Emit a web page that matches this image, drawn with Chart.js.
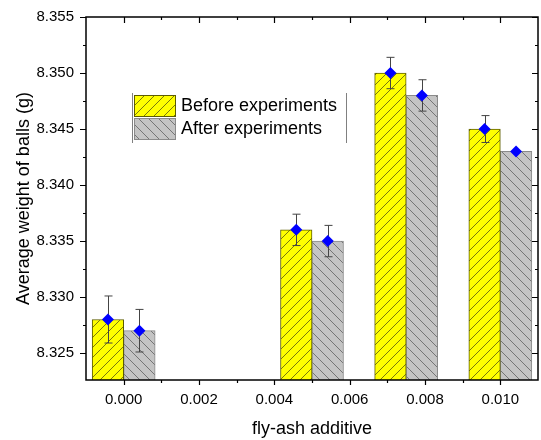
<!DOCTYPE html>
<html>
<head>
<meta charset="utf-8">
<script src="https://cdn.jsdelivr.net/npm/chart.js@4.4.0/dist/chart.umd.min.js"></script>
<style>
  html, body { margin: 0; padding: 0; background: #fff; }
</style>
</head>
<body>
<canvas id="myChart" width="541" height="440"></canvas>
<script>
// data
const flyAsh = [0.000, 0.005, 0.0075, 0.010];
const beforeWeight = [8.328, 8.336, 8.350, 8.345];
const afterWeight = [8.327, 8.335, 8.348, 8.343];
const beforeErr = [0.0021, 0.0014, 0.0014, 0.0012];
const afterErr = [0.0019, 0.0014, 0.0014, 0];
const seriesLabels = ['Before experiments', 'After experiments'];
const xTickValues = [0.000, 0.002, 0.004, 0.006, 0.008, 0.010];
const yTickValues = [8.325, 8.330, 8.335, 8.340, 8.345, 8.350, 8.355];

const FONT = '"Liberation Sans", Arial, sans-serif';

// hatched fills
function hatch(bg, line, dir) {
  const c = document.createElement('canvas');
  c.width = 10; c.height = 10;
  const g = c.getContext('2d');
  g.fillStyle = bg;
  g.fillRect(0, 0, 10, 10);
  g.strokeStyle = line;
  g.lineWidth = 0.9;
  g.beginPath();
  if (dir > 0) {
    g.moveTo(0, 10); g.lineTo(10, 0);
    g.moveTo(-1, 1); g.lineTo(1, -1);
    g.moveTo(9, 11); g.lineTo(11, 9);
  } else {
    g.moveTo(0, 0); g.lineTo(10, 10);
    g.moveTo(-1, 9); g.lineTo(1, 11);
    g.moveTo(9, -1); g.lineTo(11, 1);
  }
  g.stroke();
  return g.createPattern(c, 'repeat');
}
const yellowFill = hatch('#ffff00', '#6a6a10', 1);
const grayFill = hatch('#c4c4c4', '#6c6c6c', -1);

const decor = {
  id: 'decor',
  afterDatasetsDraw(chart) {
    const { ctx, chartArea: a, scales: { x, y } } = chart;
    ctx.save();

    // frame
    ctx.strokeStyle = '#000';
    ctx.lineWidth = 1.5;
    ctx.strokeRect(a.left, a.top, a.right - a.left, a.bottom - a.top);

    // ticks (major + minor)
    ctx.lineWidth = 1.2;
    ctx.beginPath();
    xTickValues.forEach(v => {
      const px = Math.round(x.getPixelForValue(v)) + 0.5;
      ctx.moveTo(px, a.bottom); ctx.lineTo(px, a.bottom + 5);
      ctx.moveTo(px, a.top); ctx.lineTo(px, a.top + 6);
      [-0.001, 0.001].forEach(o => {
        const m = v + o;
        if (m <= x.min + 1e-9 || m >= x.max - 1e-9) return;
        const mx = Math.round(x.getPixelForValue(m)) + 0.5;
        ctx.moveTo(mx, a.bottom); ctx.lineTo(mx, a.bottom + 3);
        ctx.moveTo(mx, a.top); ctx.lineTo(mx, a.top + 3);
      });
    });
    yTickValues.forEach(v => {
      const py = Math.round(y.getPixelForValue(v)) + 0.5;
      ctx.moveTo(a.left, py); ctx.lineTo(a.left - 6, py);
      ctx.moveTo(a.right, py); ctx.lineTo(a.right - 6, py);
      const m = v - 0.0025;
      if (m > y.min) {
        const my = Math.round(y.getPixelForValue(m)) + 0.5;
        ctx.moveTo(a.left, my); ctx.lineTo(a.left - 3, my);
        ctx.moveTo(a.right, my); ctx.lineTo(a.right - 3, my);
      }
    });
    ctx.stroke();

    // error bars and diamond markers on each bar
    [[beforeWeight, beforeErr], [afterWeight, afterErr]].forEach(([vals, errs], d) => {
      chart.getDatasetMeta(d).data.forEach((bar, i) => {
        const px = Math.round(bar.x) + 0.5;
        if (errs[i] > 0) {
          const t = y.getPixelForValue(vals[i] + errs[i]);
          const b = y.getPixelForValue(vals[i] - errs[i]);
          ctx.strokeStyle = '#444';
          ctx.lineWidth = 1;
          ctx.beginPath();
          ctx.moveTo(px, t); ctx.lineTo(px, b);
          ctx.moveTo(px - 4, t); ctx.lineTo(px + 4, t);
          ctx.moveTo(px - 4, b); ctx.lineTo(px + 4, b);
          ctx.stroke();
        }
        const py = y.getPixelForValue(vals[i]);
        const r = 6;
        ctx.fillStyle = '#0000ff';
        ctx.beginPath();
        ctx.moveTo(bar.x, py - r);
        ctx.lineTo(bar.x + r, py);
        ctx.lineTo(bar.x, py + r);
        ctx.lineTo(bar.x - r, py);
        ctx.closePath();
        ctx.fill();
      });
    });
    ctx.restore();
  },
  afterDraw(chart) {
    // legend box
    const ctx = chart.ctx;
    ctx.save();
    ctx.strokeStyle = '#808080';
    ctx.lineWidth = 1;
    ctx.beginPath();
    ctx.moveTo(132.5, 93); ctx.lineTo(132.5, 143);
    ctx.moveTo(346.5, 93); ctx.lineTo(346.5, 143);
    ctx.stroke();
    chart.data.datasets.forEach((ds, i) => {
      const top = 95 + i * 23;
      ctx.fillStyle = ds.backgroundColor;
      ctx.fillRect(134, top, 42, 22);
      ctx.strokeStyle = ds.borderColor;
      ctx.strokeRect(134.5, top + 0.5, 41, 21);
      ctx.fillStyle = '#000';
      ctx.font = '18px ' + FONT;
      ctx.textBaseline = 'middle';
      ctx.fillText(ds.label, 181, top + 11);
    });
    ctx.restore();
  }
};

const data = {
  datasets: [{
    label: seriesLabels[0],
    data: flyAsh.map((v, i) => ({ x: v, y: beforeWeight[i] })),
    backgroundColor: yellowFill,
    borderColor: '#5c5c00',
    borderWidth: 1,
    barThickness: 31.5
  },
  {
    label: seriesLabels[1],
    data: flyAsh.map((v, i) => ({ x: v, y: afterWeight[i] })),
    backgroundColor: grayFill,
    borderColor: '#8a8a8a',
    borderWidth: 1,
    barThickness: 31.5
  }]
};

const config = {
  type: 'bar',
  data,
  options: {
    responsive: false,
    animation: false,
    layout: { padding: { top: 17, right: 3, left: 0, bottom: 0 } },
    plugins: { legend: { display: false }, tooltip: { enabled: false } },
    scales: {
      x: {
        type: 'linear',
        offset: false,
        min: -0.001,
        max: 0.011,
        grid: { display: false, drawTicks: false, offset: false },
        border: { display: false },
        afterBuildTicks: s => { s.ticks = xTickValues.map(v => ({ value: v })); },
        afterFit: s => { s.height = 60; s.paddingLeft = 0; s.paddingRight = 0; },
        ticks: {
          padding: 11,
          color: '#000',
          font: { family: FONT, size: 15 },
          callback: v => (Math.abs(v) < 1e-9 ? 0 : v).toFixed(3)
        },
        title: {
          display: true,
          text: 'fly-ash additive',
          color: '#000',
          font: { family: FONT, size: 18 },
          padding: { top: 1, bottom: 0 }
        }
      },
      y: {
        min: 8.3226,
        max: 8.355,
        grid: { display: false, drawTicks: false },
        border: { display: false },
        afterBuildTicks: s => { s.ticks = yTickValues.map(v => ({ value: v })); },
        afterFit: s => { s.width = 86; s.paddingTop = 0; s.paddingBottom = 0; },
        ticks: {
          padding: 12,
          color: '#000',
          font: { family: FONT, size: 15 },
          callback: v => v.toFixed(3)
        },
        title: {
          display: true,
          text: 'Average weight of balls (g)',
          color: '#000',
          font: { family: FONT, size: 18 },
          padding: { top: 13, bottom: 0 }
        }
      }
    }
  },
  plugins: [decor]
};

const myChart = new Chart(document.getElementById('myChart'), config);
</script>
</body>
</html>
